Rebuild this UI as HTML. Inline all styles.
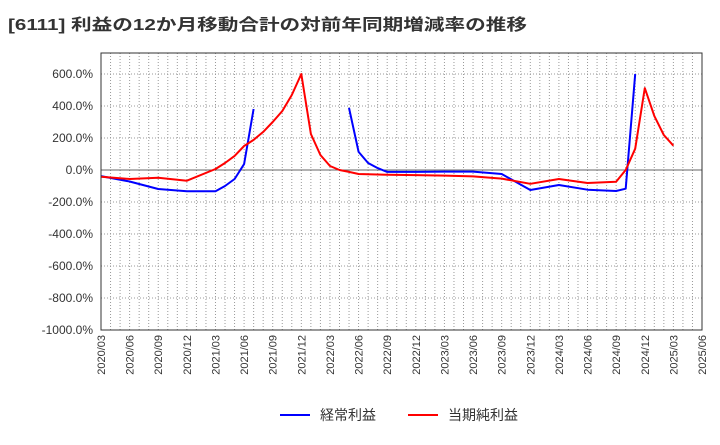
<!DOCTYPE html>
<html><head><meta charset="utf-8"><style>
body{margin:0;background:#fff;}
svg text{font-family:"Liberation Sans","Noto Sans CJK JP",sans-serif;}
</style></head><body>
<svg id="c" width="720" height="440" xmlns="http://www.w3.org/2000/svg">
<text x="8" y="30" font-size="16" font-weight="bold" fill="#333" textLength="519" lengthAdjust="spacingAndGlyphs">[6111]  利益の12か月移動合計の対前年同期増減率の推移</text>
<g id="grid"></g><g id="series"></g><g id="axes"></g>
<g>
<line x1="280" y1="415" x2="310" y2="415" stroke="#0000ff" stroke-width="2"/>
<text x="320" y="420" font-size="14" fill="#333">経常利益</text>
<line x1="408" y1="415" x2="438" y2="415" stroke="#ff0000" stroke-width="2"/>
<text x="448" y="420" font-size="14" fill="#333">当期純利益</text>
</g>
</svg>
<script>
const xLabels=["2020/03","2020/06","2020/09","2020/12","2021/03","2021/06","2021/09","2021/12","2022/03","2022/06","2022/09","2022/12","2023/03","2023/06","2023/09","2023/12","2024/03","2024/06","2024/09","2024/12","2025/03","2025/06"];
const yTicks=[600,400,200,0,-200,-400,-600,-800,-1000];
// month index from 2020/03
const blueMonths=[0,3,6,9,12,13,14,15,16,null,26,27,28,29,30,33,36,39,42,45,48,51,54,55,56];
const blueValues=[-38,-72,-119,-133,-133,-100,-56,37,381,null,388,113,44,12,-12,-12,-10,-10,-25,-125,-94,-123,-131,-117,600];
const redMonths=[0,3,6,9,12,13,14,15,16,17,18,19,20,21,22,23,24,25,26,27,30,33,36,39,42,45,48,51,54,55,56,57,58,59,60];
const redValues=[-42,-56,-48,-67,6,44,88,150,188,238,300,369,469,600,225,94,25,0,-12,-25,-30,-32,-35,-40,-54,-86,-56,-81,-73,0,133,512,338,219,152];
const L=101,R=702,T=53,B=330;
const xs=m=>L+m*(R-L)/63;
const ys=v=>170-v*0.16;
const ns="http://www.w3.org/2000/svg";
function mk(t,a,p){const e=document.createElementNS(ns,t);for(const k in a)e.setAttribute(k,a[k]);p.appendChild(e);return e;}
const g=document.getElementById('grid'),ax=document.getElementById('axes'),s=document.getElementById('series');
for(let m=1;m<63;m++){const l=mk('line',{x1:xs(m),x2:xs(m),y1:T,y2:B,stroke:'#999','stroke-dasharray':'1,2'},g);

}
yTicks.forEach(v=>{const y=ys(v);
const l=mk('line',{x1:L,x2:R,y1:y,y2:y,stroke:v===0?'#666':'#999','stroke-dasharray':v===0?'':'1,2'},g);


const t=mk('text',{x:93,y:y+4,'font-size':12,'text-anchor':'end',fill:'#333'},ax);t.textContent=v.toFixed(1)+'%';

});
xLabels.forEach((lb,i)=>{const x=xs(i*3);
const t=mk('text',{x:0,y:0,'font-size':11,'text-anchor':'end',fill:'#333',transform:`translate(${x+4},335) rotate(-90)`},ax);t.textContent=lb;

});
const f=mk('rect',{x:L,y:T,width:R-L,height:B-T,fill:'none',stroke:'#333'},ax);


function line(ms,vs,col,name){let d='',start=true;
for(let i=0;i<ms.length;i++){if(ms[i]===null||vs[i]===null){start=true;continue;}
d+=(start?'M':'L')+xs(ms[i]).toFixed(1)+','+ys(vs[i]).toFixed(1);start=false;}
const p=mk('path',{d:d,fill:'none',stroke:col,'stroke-width':2,'stroke-linejoin':'round'},s);

}
line(blueMonths,blueValues,'#0000ff','series-keijo-rieki');
line(redMonths,redValues,'#ff0000','series-toki-junrieki');
</script>
</body></html>
